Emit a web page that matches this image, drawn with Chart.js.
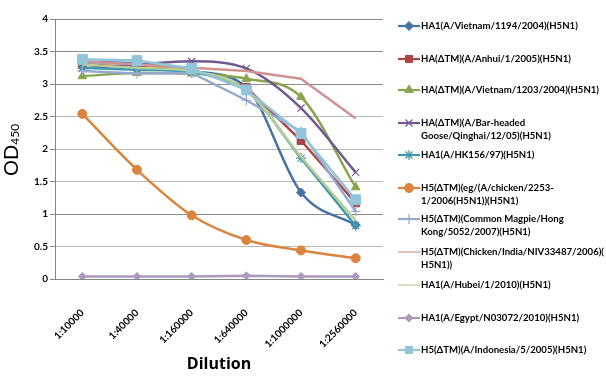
<!DOCTYPE html>
<html>
<head>
<meta charset="utf-8">
<script src="https://cdn.jsdelivr.net/npm/chart.js@4.4.1/dist/chart.umd.min.js"></script>
<style>
  html, body { margin: 0; padding: 0; background: #fff; }
  #wrap { width: 606px; height: 378px; }
</style>
</head>
<body>
<div id="wrap"><canvas id="ctx_od" width="606" height="378"></canvas></div>
<script>
// dilution steps (x categories)
var dilutions = ['1:10000', '1:40000', '1:160000', '1:640000', '1:1000000', '1:2560000'];

// OD450 readings, one array per antigen
var vietnam1194   = [3.34, 3.31, 3.20, 2.95, 1.33, 0.83];
var anhui         = [3.30, 3.26, 3.22, 2.95, 2.13, 1.17];
var vietnam1203   = [3.12, 3.17, 3.16, 3.08, 2.80, 1.41];
var barHeaded     = [3.24, 3.30, 3.35, 3.24, 2.63, 1.64];
var hk156         = [3.25, 3.22, 3.18, 2.90, 1.86, 0.82];
var egChicken     = [2.54, 1.68, 0.98, 0.60, 0.44, 0.32];
var magpie        = [3.20, 3.16, 3.17, 2.75, 2.27, 1.04];
var chickenIndia  = [3.35, 3.30, 3.25, 3.20, 3.08, 2.47];
var hubei         = [3.30, 3.25, 3.20, 2.90, 1.88, 0.90];
var egypt         = [0.04, 0.04, 0.04, 0.05, 0.04, 0.04];
var indonesia     = [3.38, 3.36, 3.24, 2.91, 2.24, 1.22];

var yTicks = [0, 0.5, 1, 1.5, 2, 2.5, 3, 3.5, 4];

function series(label, data, color, style, radius, tension) {
    return {
        label: label,
        data: data,
        borderColor: color,
        backgroundColor: color,
        pointBackgroundColor: color,
        pointBorderColor: color,
        pointBorderWidth: (style === 'crossRot' || style === 'star' || style === 'cross') ? 1.2 : 1,
        pointStyle: style || 'circle',
        pointRadius: radius,
        borderWidth: 2.5,
        tension: tension,
        cubicInterpolationMode: tension > 0 ? 'monotone' : 'default',
        fill: false
    };
}

var datasets = [
    series(['HA1(A/Vietnam/1194/2004)(H5N1)'], vietnam1194, '#4572A7', 'rectRot', 4.5, 0.4),
    series(['HA(\u0394TM)(A/Anhui/1/2005)(H5N1)'], anhui, '#AA4643', 'rect', 5.5, 0),
    series(['HA(\u0394TM)(A/Vietnam/1203/2004)(H5N1)'], vietnam1203, '#89A54E', 'triangle', 5, 0.4),
    series(['HA(\u0394TM)(A/Bar-headed', 'Goose/Qinghai/12/05)(H5N1)'], barHeaded, '#71588F', 'crossRot', 5, 0.4),
    series(['HA1(A/HK156/97)(H5N1)'], hk156, '#4198AF', 'star', 5, 0.2),
    series(['H5(\u0394TM)(eg/(A/chicken/2253-', '1/2006(H5N1))(H5N1)'], egChicken, '#DB843D', 'circle', 4.5, 0.4),
    series(['H5(\u0394TM)(Common Magpie/Hong', 'Kong/5052/2007)(H5N1)'], magpie, '#93A9CF', 'cross', 5, 0),
    series(['H5(\u0394TM)(Chicken/India/NIV33487/2006)(', 'H5N1))'], chickenIndia, '#D19392', 'circle', 0, 0),
    series(['HA1(A/Hubei/1/2010)(H5N1)'], hubei, '#B9CD96', 'circle', 0, 0.2),
    series(['HA1(A/Egypt/N03072/2010)(H5N1)'], egypt, '#A99BBD', 'rectRot', 4, 0),
    series(['H5(\u0394TM)(A/Indonesia/5/2005)(H5N1)'], indonesia, '#92C4DA', 'rect', 7, 0)
];
// later series sit on top, as in the original
datasets.forEach(function(ds, i) { ds.order = datasets.length - i; });

var legendY = [26, 59, 90, 123, 155, 188, 219, 252, 285, 318, 350];

var sideLegend = {
    id: 'sideLegend',
    afterDraw: function(chart) {
        var ctx = chart.ctx;
        ctx.save();
        chart.data.datasets.forEach(function(ds, i) {
            var y = legendY[i];
            ctx.strokeStyle = ds.borderColor;
            ctx.lineWidth = ds.pointRadius > 0 ? 2.2 : 1.2;
            ctx.beginPath();
            ctx.moveTo(398, y);
            ctx.lineTo(420, y);
            ctx.stroke();
            if (ds.pointRadius > 0) {
                ctx.fillStyle = ds.pointBackgroundColor;
                ctx.strokeStyle = ds.pointBorderColor;
                ctx.lineWidth = ds.pointBorderWidth;
                Chart.helpers.drawPoint(ctx, {
                    pointStyle: ds.pointStyle,
                    radius: Math.min(ds.pointRadius, 5),
                    rotation: 0,
                    borderWidth: ds.pointBorderWidth
                }, 409, y);
            }
            ctx.fillStyle = '#000';
            ctx.font = 'bold 9.6px Lato';
            ctx.textBaseline = 'middle';
            ctx.textAlign = 'left';
            ds.label.forEach(function(line, k) {
                ctx.fillText(line, 421, y + k * 12.5);
            });
        });
        ctx.restore();
    }
};

var yTitle = {
    id: 'yTitle',
    afterDraw: function(chart) {
        var ctx = chart.ctx;
        ctx.save();
        ctx.translate(18, 176);
        ctx.rotate(-Math.PI / 2);
        ctx.fillStyle = '#000';
        ctx.textBaseline = 'alphabetic';
        ctx.textAlign = 'left';
        ctx.font = '20px Lato';
        ctx.fillText('OD', 0, 0);
        var w = ctx.measureText('OD').width;
        ctx.font = '12px Lato';
        ctx.fillText('450', w, 1);
        ctx.restore();
    }
};

var ctx = document.getElementById('ctx_od');
var myChart = new Chart(ctx, {
    type: 'line',
    data: {
        labels: dilutions,
        datasets: datasets
    },
    options: {
        responsive: false,
        devicePixelRatio: 1,
        animation: false,
        layout: {
            padding: { top: 19, right: 223, bottom: 0, left: 0 }
        },
        plugins: {
            legend: { display: false },
            tooltip: { enabled: false }
        },
        scales: {
            x: {
                offset: true,
                grid: { display: false, offset: true },
                border: { display: true, color: '#868686', width: 1 },
                ticks: {
                    color: '#000',
                    font: { family: 'Lato', size: 10, weight: 'bold' },
                    minRotation: 45,
                    maxRotation: 45,
                    padding: 20
                },
                title: {
                    display: true,
                    text: 'Dilution',
                    color: '#000',
                    font: { family: 'Open Sans', size: 16, weight: 'bold' },
                    padding: { top: 0, bottom: 4 }
                },
                afterFit: function(scale) { scale.height = 99; }
            },
            y: {
                min: 0,
                max: 4,
                afterBuildTicks: function(scale) {
                    scale.ticks = yTicks.map(function(v) { return { value: v }; });
                },
                grid: {
                    color: function(c) {
                        var v = c.tick ? c.tick.value : 0;
                        return (v === 4 || v === 3.5 || v === 3 || v === 1 || v === 0) ? '#8a8a8a' : '#b8b8b8';
                    },
                    tickColor: '#868686',
                    tickLength: 5,
                    drawTicks: true
                },
                border: { display: true, color: '#868686', width: 1 },
                ticks: {
                    color: '#000',
                    font: { family: 'Lato', size: 10, weight: 'bold' },
                    padding: 2,
                    callback: function(v) { return String(v); }
                },
                afterFit: function(scale) { scale.width = 55; }
            }
        }
    },
    plugins: [sideLegend, yTitle]
});
</script>
</body>
</html>
